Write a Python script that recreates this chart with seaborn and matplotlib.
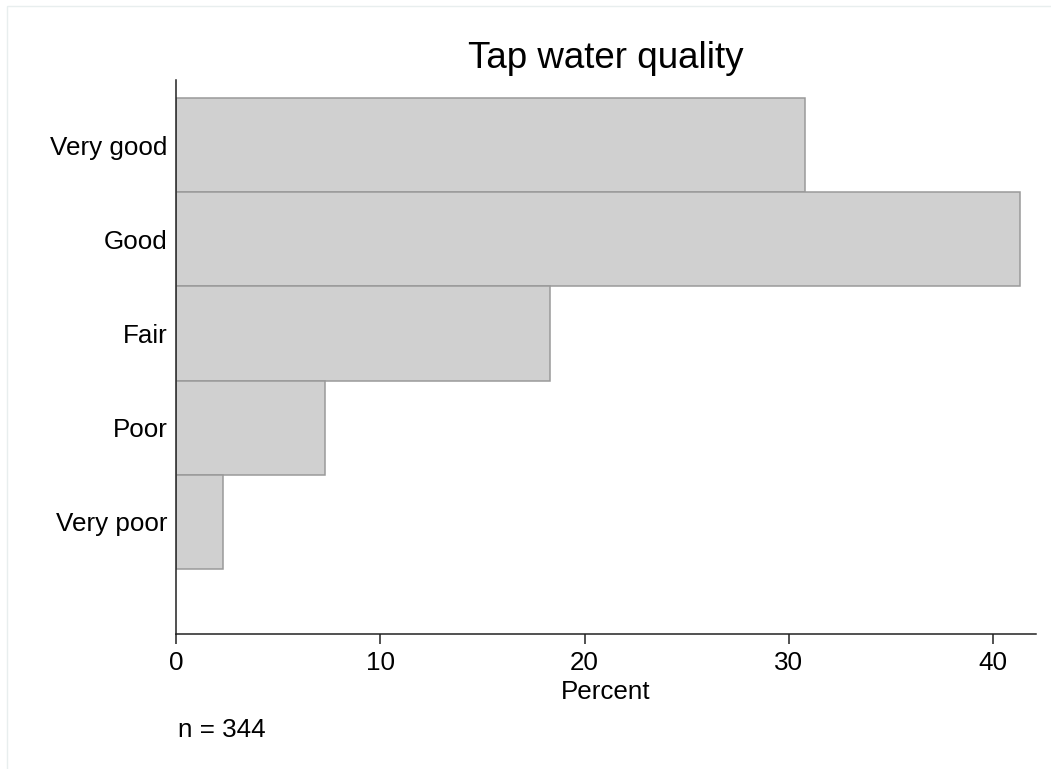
import matplotlib
matplotlib.use("Agg")
import matplotlib.pyplot as plt
import seaborn as sns
import pandas as pd
from matplotlib.patches import Rectangle

# data
categories = ["Very good", "Good", "Fair", "Poor", "Very poor"]
percent = [30.8, 41.3, 18.3, 7.3, 2.3]
n_obs = 344
x_ticks = [0, 10, 20, 30, 40]

df = pd.DataFrame({"quality": categories, "pct": percent})

sns.set_style("white")
plt.rcParams["font.family"] = ["Liberation Sans", "DejaVu Sans"]
plt.rcParams["text.color"] = "black"
plt.rcParams["axes.labelcolor"] = "black"
plt.rcParams["xtick.color"] = "black"
plt.rcParams["ytick.color"] = "black"

fig = plt.figure(figsize=(10.51, 7.69), dpi=100)
ax = fig.add_axes([176 / 1051, 1 - 634 / 769, 860 / 1051, 554 / 769])

sns.barplot(data=df, x="pct", y="quality", order=categories, orient="h",
            width=1, color="#d0d0d0", saturation=1,
            edgecolor="#9a9a9a", linewidth=1.1, ax=ax)

ax.set_xlim(0, 42.1)
ax.set_ylim(5.19, -0.69)
ax.set_xticks(x_ticks)

sns.despine(ax=ax)
for s in ["left", "bottom"]:
    ax.spines[s].set_color("#222222")
    ax.spines[s].set_linewidth(1.1)

ax.tick_params(axis="x", length=7, width=1.1, color="#222222", pad=5.5,
               labelsize=18.7, direction="out", bottom=True)
ax.tick_params(axis="y", length=0, pad=6, labelsize=18.7)

ax.set_xlabel("Percent", fontsize=18.7, labelpad=3)
ax.set_ylabel("")
ax.set_title("Tap water quality", fontsize=26.5, pad=9, color="black")

fig.text(178 / 1051, 1 - 737 / 769, f"n = {n_obs}", fontsize=18.7,
         ha="left", va="baseline")

# faint frame around the figure
fig.patches.append(Rectangle((7 / 1051, -0.01), 1.0, 1 - 6 / 769 + 0.01,
                             transform=fig.transFigure, fill=False,
                             edgecolor="#e8eeee", linewidth=1))

fig.savefig("out.png", dpi=100)
